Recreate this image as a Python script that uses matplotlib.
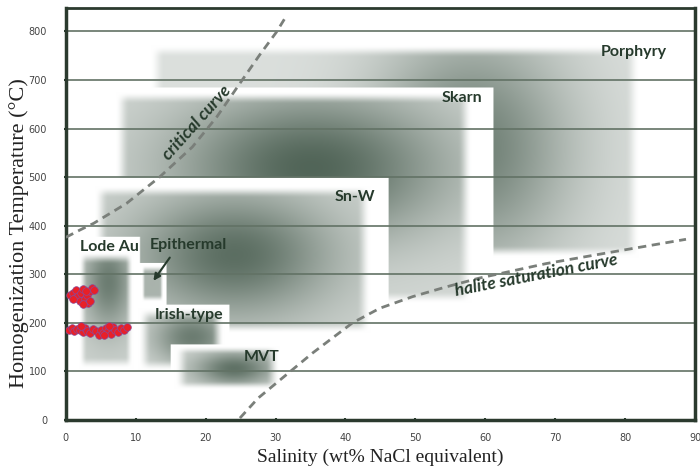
import numpy as np
import matplotlib.pyplot as plt

# 流体包裹体类型范围：盐度 (wt% NaCl) 与均一温度 (°C)
fields = ['Porphyry', 'Skarn', 'Sn-W', 'Lode Au', 'Epithermal', 'Irish-type', 'MVT']
sal_min = [12, 7, 4, 1.8, 10.8, 10.3, 15.5]
sal_max = [82, 58, 43.5, 9.5, 13.8, 22.5, 30.5]
temp_min = [335, 240, 178, 105, 243, 100, 62]
temp_max = [772, 676, 482, 345, 318, 230, 152]

# 临界曲线与石盐饱和曲线
critical_x = [0, 2, 4, 8.7, 13.4, 18.1, 21.6, 24.9, 27.7, 30.1, 31.6]
critical_y = [376, 391, 405, 446, 500, 562, 624, 693, 751, 798, 833]
halite_x = [24.9, 27.5, 30.6, 35.3, 41, 44.9, 49.6, 54.4, 59.1, 68.7, 78.2, 88.7]
halite_y = [4, 45, 82, 138, 200, 230, 254, 274, 292, 322, 346, 372]

# 测量数据（两组）
group1_x = [0.6, 1.0, 1.3, 1.5, 1.8, 2.0, 2.2, 2.5, 2.7, 3.0, 3.2, 3.4, 3.7, 4.0, 2.4, 1.1, 2.9, 3.5]
group1_y = [258, 262, 252, 268, 255, 245, 262, 270, 250, 258, 240, 265, 272, 268, 238, 250, 265, 246]
group2_x = [0.5, 0.9, 1.2, 1.6, 2.0, 2.4, 2.8, 3.1, 3.5, 3.9, 4.3, 4.7, 5.0, 5.3, 5.7,
            6.0, 6.4, 6.7, 7.0, 7.5, 7.9, 8.3, 8.8, 5.5, 2.2, 6.2]
group2_y = [185, 190, 183, 188, 186, 181, 190, 184, 179, 187, 183, 176, 186, 180, 190,
            184, 178, 192, 185, 181, 189, 186, 192, 175, 193, 194]

# 样式：白底边距 (左, 右, 下, 上)，深度，最深处位置与范围
pads = [(0.5, 0.5, 5, 5), (0.5, 3, 5, 8), (0.5, 2.5, 5, 16), (0.5, 1, 5, 32),
        (0.3, 0.5, 5, 5), (0.3, 0.9, 5, 7), (0.5, 1, 7, 3)]
peaks = [0.7, 0.85, 0.8, 0.72, 0.42, 0.72, 0.78]
centers = [(58, 560), (35, 520), (24, 340), (6, 285), (12.3, 280), (18, 170), (24, 105)]
spreads = [(10, 170), (14, 110), (10, 90), (2.5, 70), (5, 80), (4, 40), (4, 25)]
bases = [0.25, 0.25, 0.3, 0.35, 0.8, 0.3, 0.3]

dark = np.array([0.20, 0.29, 0.23])
ink = '#263a2c'
label_font = dict(family='Lato', weight='bold', fontsize=11.5, color=ink,
                  ha='center', va='center')
curve_font = dict(family='Lato', weight='bold', style='italic', fontsize=12.5,
                  color=ink, ha='center', va='center', rotation_mode='anchor')

gx = np.linspace(0, 90, 451)
gy = np.linspace(0, 848, 425)
X, Y = np.meshgrid(gx, gy)
inten = np.zeros_like(X)


def fade(d, w):
    t = np.clip(d / w, 0, 1)
    return t * t * (3 - 2 * t)


for i in range(len(fields)):
    x0, x1, y0, y1 = sal_min[i], sal_max[i], temp_min[i], temp_max[i]
    pl, pr, pb, pt = pads[i]
    box = (X >= x0 - pl) & (X <= x1 + pr) & (Y >= y0 - pb) & (Y <= y1 + pt)
    wx = min(2.0, 0.15 * (x1 - x0))
    wy = min(25, 0.2 * (y1 - y0))
    edge = fade(X - x0, wx) * fade(x1 - X, wx) * fade(Y - y0, wy) * fade(y1 - Y, wy)
    cx, cy = centers[i]
    sx, sy = spreads[i]
    g = np.exp(-0.5 * ((X - cx) / sx) ** 2 - 0.5 * ((Y - cy) / sy) ** 2)
    val = peaks[i] * edge * (bases[i] + (1 - bases[i]) * g)
    inten[box] = val[box]

rgb = 1 - inten[..., None] * (1 - dark)

fig = plt.figure(figsize=(7, 4.73), dpi=100)
ax = fig.add_axes([0.094, 0.112, 0.899, 0.871])
ax.imshow(rgb, extent=[0, 90, 0, 848], origin='lower', aspect='auto',
          interpolation='bilinear', zorder=0)
ax.set_xlim(0, 90)
ax.set_ylim(0, 848)
ax.set_xticks(range(0, 91, 10))
ax.set_yticks(range(0, 801, 100))
ax.yaxis.grid(True, color='#627265', lw=1.2)
ax.tick_params(labelsize=7, colors=ink, labelcolor='#444444', length=3, width=1.5,
               direction='inout', pad=8)
ax.tick_params(axis='y', pad=12)
for side in ['left', 'bottom', 'right']:
    ax.spines[side].set_linewidth(2.5)
    ax.spines[side].set_color('#2b3a2e')
ax.spines['top'].set_linewidth(2)
ax.spines['top'].set_color('#2b3a2e')

# 曲线
ax.plot(critical_x, critical_y, color='#7a7f7a', lw=2, dashes=(3, 2), zorder=3)
ax.plot(halite_x, halite_y, color='#7a7f7a', lw=2, dashes=(3, 2), zorder=3)
ax.text(18.7, 611, 'critical curve', rotation=48, **curve_font)
ax.text(67.3, 298, 'halite saturation curve', rotation=11, **curve_font)

# 区域标签
ax.text(81.3, 757, 'Porphyry', **label_font)
ax.text(56.6, 663, 'Skarn', **label_font)
ax.text(41.4, 459, 'Sn-W', **label_font)
ax.text(6.3, 356, 'Lode Au', **label_font)
ax.text(17.6, 360, 'Epithermal', **label_font)
ax.text(17.6, 216, 'Irish-type', **label_font)
ax.text(28, 129, 'MVT', **label_font)
ax.annotate('', xy=(12.3, 282), xytext=(15.1, 339),
            arrowprops=dict(arrowstyle='-|>', color=ink, lw=1.5, mutation_scale=10))

# 数据点
ax.plot(group1_x, group1_y, 'o', ms=5.5, mfc='#e82028', mec='#8a4a9a', mew=0.5, zorder=4)
ax.plot(group2_x, group2_y, 'o', ms=5.5, mfc='#e82028', mec='#8a4a9a', mew=0.5, zorder=4)

ax.set_xlabel('Salinity (wt% NaCl equivalent)', family='Liberation Serif',
              fontsize=14, color='#222222', labelpad=4)
ax.set_ylabel('Homogenization Temperature (°C)', family='Liberation Serif',
              fontsize=16, color='#222222')
ax.yaxis.set_label_coords(-0.058, 0.454)

fig.savefig('out.png', dpi=100)
